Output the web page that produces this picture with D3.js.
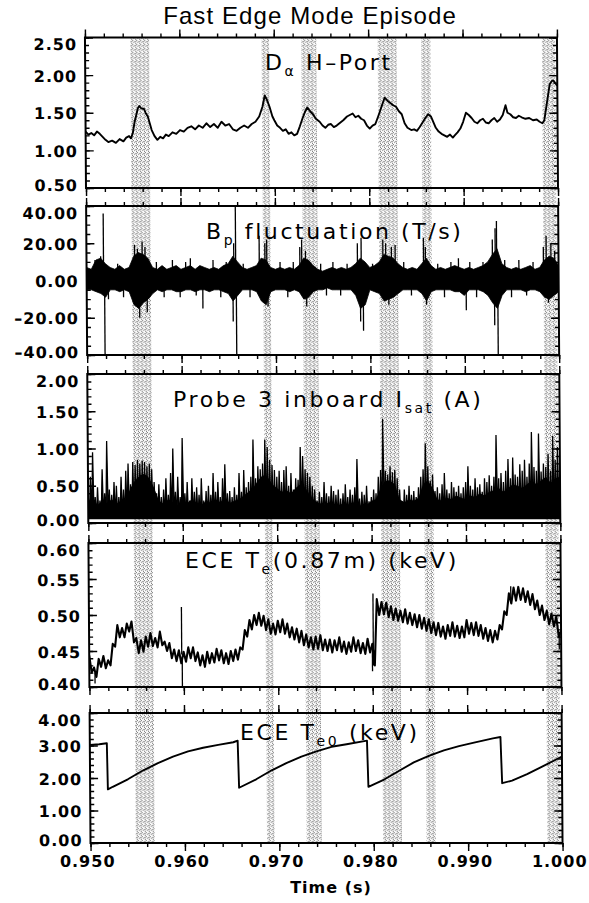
<!DOCTYPE html>
<html>
<head>
<meta charset="utf-8">
<script src="https://cdn.jsdelivr.net/npm/d3@7"></script>
<style>
  html, body { margin: 0; padding: 0; background: #fff; }
  svg { display: block; }
</style>
</head>
<body>
<svg id="chart" width="589" height="903"></svg>
<script>
// ---------------------------------------------------------------------------
// Data. Times are in milliseconds after t = 0.950 s.
// ---------------------------------------------------------------------------
const T0 = 0.950;
const X_TICKS = [0.950, 0.960, 0.970, 0.980, 0.990, 1.000];

// Fast edge mode events (shaded intervals, ms)
const EPISODES = [[4.8, 6.8], [18.7, 19.5], [22.9, 24.5], [31.0, 33.0], [35.6, 36.6], [48.4, 49.8]];

// D-alpha H-port signal: [ms, value]
const DA = [
  [0,1.25],[0.3,1.21],[0.6,1.23],[0.9,1.20],[1.2,1.25],[1.5,1.22],[1.8,1.18],[2.1,1.14],[2.4,1.11],[2.8,1.13],
  [3.2,1.10],[3.6,1.15],[4.0,1.12],[4.3,1.17],[4.6,1.19],[4.8,1.16],[5.0,1.23],[5.2,1.38],[5.4,1.48],[5.55,1.56],
  [5.7,1.59],[5.9,1.56],[6.2,1.55],[6.4,1.49],[6.6,1.45],[6.8,1.36],[7.0,1.27],[7.3,1.19],[7.6,1.14],[7.9,1.18],
  [8.2,1.16],[8.5,1.21],[8.8,1.19],[9.2,1.24],[9.6,1.22],[10.0,1.27],[10.4,1.25],[10.8,1.30],[11.2,1.32],[11.6,1.28],
  [12.0,1.33],[12.4,1.30],[12.8,1.36],[13.2,1.31],[13.6,1.35],[14.0,1.30],[14.4,1.38],[14.8,1.33],[15.2,1.35],[15.6,1.28],
  [16.0,1.26],[16.4,1.30],[16.8,1.33],[17.2,1.30],[17.6,1.35],[18.0,1.38],[18.4,1.45],[18.75,1.58],[19.0,1.73],[19.2,1.68],
  [19.5,1.58],[19.8,1.45],[20.0,1.40],[20.3,1.33],[20.6,1.30],[20.9,1.26],[21.2,1.28],[21.5,1.22],[21.8,1.24],[22.1,1.20],
  [22.4,1.22],[22.7,1.32],[23.0,1.43],[23.25,1.51],[23.5,1.57],[23.8,1.52],[24.1,1.48],[24.4,1.42],[24.8,1.38],[25.1,1.33],
  [25.4,1.30],[25.7,1.34],[26.0,1.35],[26.3,1.31],[26.6,1.33],[27.0,1.37],[27.3,1.40],[27.7,1.45],[28.0,1.47],[28.3,1.49],
  [28.6,1.44],[28.9,1.46],[29.2,1.42],[29.5,1.40],[29.8,1.33],[30.1,1.29],[30.4,1.33],[30.7,1.35],[31.0,1.45],[31.2,1.52],
  [31.5,1.63],[31.7,1.70],[32.0,1.66],[32.3,1.63],[32.6,1.60],[32.9,1.58],[33.2,1.52],[33.5,1.48],[33.8,1.36],[34.1,1.30],
  [34.5,1.27],[34.8,1.28],[35.1,1.26],[35.4,1.31],[35.7,1.37],[36.0,1.43],[36.3,1.48],[36.6,1.45],[36.9,1.36],[37.1,1.30],
  [37.4,1.25],[37.7,1.22],[38.0,1.20],[38.3,1.18],[38.6,1.21],[38.9,1.17],[39.1,1.20],[39.4,1.24],[39.7,1.29],[40.0,1.38],
  [40.3,1.50],[40.6,1.47],[40.9,1.43],[41.2,1.38],[41.5,1.36],[41.8,1.40],[42.1,1.42],[42.4,1.37],[42.7,1.36],[43.0,1.40],
  [43.3,1.43],[43.6,1.38],[43.9,1.41],[44.2,1.47],[44.5,1.60],[44.7,1.50],[45.0,1.48],[45.3,1.44],[45.6,1.43],[45.9,1.46],
  [46.2,1.44],[46.6,1.42],[47.0,1.43],[47.4,1.40],[47.8,1.41],[48.1,1.38],[48.4,1.36],[48.6,1.40],[48.9,1.64],[49.2,1.88],
  [49.4,1.92],[49.6,1.93],[49.8,1.89],[50.0,1.86]
];

// Bp fluctuation (T/s): envelope of the dense trace, sampled every 0.5 ms
const BP_STEP = 0.5;
const BP_HI = [7,6,11,12,9,7,6,8,6,7, 13,15,14,12,7,6,8,6,7,8, 6,7,8,6,8,7,6,7,6,8,
  9,13,10,7,6,7,8,12,11,7, 6,7,6,7,6,8,12,11,8,6, 5,6,7,6,7,6,7,9,12,10,
  7,8,10,14,13,12,9,7,6,7, 6,9,12,8,6,7,6,7,8,7, 6,7,6,7,8,10,14,17,9,7,
  6,7,6,7,8,6,7,11,13,12, 8];
const BP_LO = [-5,-5,-6,-7,-9,-5,-5,-6,-5,-6, -13,-15,-12,-10,-7,-5,-6,-5,-5,-6, -6,-5,-5,-6,-5,-5,-6,-5,-5,-6,
  -7,-11,-8,-5,-5,-5,-6,-11,-13,-6, -5,-5,-5,-6,-5,-6,-10,-9,-6,-5, -5,-4,-5,-5,-5,-5,-5,-8,-15,-13,
  -5,-6,-7,-11,-10,-9,-7,-5,-5,-5, -5,-7,-11,-6,-5,-5,-5,-5,-6,-6, -8,-5,-5,-5,-6,-8,-12,-15,-8,-5,
  -5,-5,-5,-6,-5,-5,-6,-9,-10,-8, -6];
// Isolated spikes: [ms, peak value]
const BP_SPIKES = [[0.9,11],[1.5,13],[1.8,36],[1.9,-40],[2.3,-10],[3.3,9],[3.9,-9],[5.1,19],[5.4,17],[5.6,-20],
  [5.9,21],[6.2,18],[6.4,-17],[7.4,10],[8.2,-9],[9.1,11],[9.9,-9],[10.5,10],[11.0,12],[11.6,-8],[12.3,-15],
  [13.4,11],[14.2,-9],[14.8,10],[15.5,-22],[15.6,20],[15.8,42],[15.85,-40],[16.6,9],[17.3,-9],[18.3,24],
  [18.9,20],[19.1,22],[19.2,-14],[20.5,10],[21.3,-9],[21.9,10],[22.6,18],[22.8,22],[23.2,16],[23.3,-14],
  [24.8,9],[25.4,-8],[26.1,10],[26.9,-8],[27.6,9],[28.7,20],[29.0,-22],[29.1,23],[29.3,-27],[30.3,9],
  [31.4,22],[31.7,20],[32.0,-13],[32.3,18],[32.7,19],[33.6,10],[34.4,-8],[35.7,23],[35.9,18],[36.0,-13],
  [37.2,9],[37.9,-9],[38.6,10],[39.4,12],[40.2,-16],[40.6,10],[41.3,-9],[42.0,10],[43.0,22],[43.2,-24],
  [43.3,28],[43.45,32],[43.55,-40],[44.3,11],[45.0,-9],[45.8,11],[46.6,-8],[47.3,10],[48.4,18],[48.7,24],
  [48.9,-12],[49.2,20],[49.6,16]];

// Probe 3 inboard ion saturation current (A)
const ISAT_FLOOR = 0.06;
const ISAT_PEAK_STEP = 0.25;
const ISAT_PEAK = [
  0.40,0.62,0.95,0.35, 0.48,0.30,0.72,0.40, 1.10,0.45,0.38,0.55, 0.50,0.35,0.62,0.45, 0.70,0.80,0.52,0.82,
  0.78,0.85,0.80,0.84, 0.82,0.76,0.80,0.72, 0.55,0.40,0.52,0.35, 0.45,0.60,0.38,0.67, 1.00,0.42,0.62,0.35,
  1.14,0.40,0.55,0.30, 0.60,0.42,0.48,0.38, 0.60,0.30,0.43,0.50, 0.38,0.67,0.42,0.55, 0.35,0.60,0.79,0.40,
  0.43,0.35,0.48,0.38, 0.67,0.42,0.71,0.48, 0.55,0.62,1.12,0.60, 0.76,0.72,0.80,1.12, 1.02,0.85,0.78,0.71,
  0.62,0.70,0.55,0.71, 0.76,0.50,0.67,0.45, 0.60,0.58,1.02,0.90, 0.72,0.67,0.62,0.50, 0.45,0.30,0.42,0.35,
  0.55,0.40,0.36,0.50, 0.43,0.38,0.45,0.33, 0.40,0.52,0.35,0.45, 0.38,0.48,0.86,0.33, 0.42,0.38,0.50,0.29,
  0.35,0.45,0.40,0.62, 0.71,1.40,0.70,0.65, 0.76,0.68,0.71,0.60, 0.45,0.29,0.45,0.38, 0.50,0.38,0.43,0.35,
  0.48,0.62,0.72,1.07, 0.76,0.57,0.65,0.43, 0.48,0.40,0.52,0.67, 0.45,0.40,0.55,0.48, 0.42,0.50,0.40,0.48,
  0.55,0.76,0.50,0.45, 0.60,0.48,0.52,0.42, 0.60,0.55,0.64,0.50, 0.62,1.18,0.60,0.67, 0.55,0.70,0.86,0.60,
  0.88,0.65,0.62,0.79, 0.70,0.85,0.62,0.80, 1.22,0.75,0.70,1.20, 0.69,0.80,0.75,0.93, 0.70,1.17,0.85,1.02,
  0.80];
const ISAT_BASE_STEP = 0.5;
const ISAT_BASE = [
  0.27,0.32,0.24,0.30,0.27,0.32,0.26,0.30,0.32,
  0.47,0.57,0.64,0.66,0.60,0.47,
  0.30,0.26,0.32,0.28,0.24,0.30,0.27,0.32,0.26,0.24,0.30,0.27,0.32,0.28,0.34,0.27,0.30,0.32,0.37,0.42,
  0.47,0.57,0.64,0.62,0.52,
  0.47,0.42,0.44,0.40,0.47,0.52,0.47,0.37,
  0.30,0.27,0.24,0.28,0.26,0.22,0.27,0.24,0.28,0.26,0.22,0.24,0.30,0.32,
  0.47,0.57,0.57,0.52,
  0.32,0.28,0.32,0.30,0.34,
  0.52,0.57,0.47,
  0.32,0.30,0.34,0.32,0.37,0.34,0.32,0.37,0.35,0.40,0.37,0.42,
  0.44,0.47,0.42,0.47,0.52,0.50,0.47,0.52,0.57,0.52,0.57,0.62,0.54,0.60,0.62];

// ECE Te at 0.87 m (keV), sampled every 0.25 ms
const TE_STEP = 0.25;
const TE_TRACE = [
  .444,.420, .427,.414, .439,.428, .443,.426, .437,.430, .460,.456, .486,.469, .482,.469, .488,.477, .491,.462,
  .468,.447, .465,.449, .470,.456, .475,.457, .468,.455, .477,.458, .463,.450, .461,.440, .452,.436, .451,.433,
  .449,.435, .455,.440, .455,.436, .448,.430, .444,.428, .449,.433, .447,.434, .453,.437, .451,.433, .447,.432,
  .450,.436, .452,.438, .455,.452, .479,.470, .493,.480, .500,.486, .503,.485, .499,.479, .494,.474, .488,.473,
  .492,.476, .494,.474, .488,.469, .483,.466, .481,.462, .478,.458, .473,.455, .469,.452, .470,.453, .472,.451,
  .466,.450, .466,.448, .465,.451, .469,.449, .463,.446, .462,.449, .469,.450, .465,.447, .461,.446, .467,.448,
  .460,.430, .522,.500, .518,.501, .517,.497, .512,.493, .509,.492, .506,.490, .508,.488, .503,.486, .501,.483,
  .500,.481, .496,.478, .494,.475, .490,.472, .489,.470, .484,.467, .486,.471, .490,.470, .485,.468, .484,.469,
  .493,.474, .489,.472, .490,.471, .486,.467, .482,.464, .479,.462, .478,.466, .486,.480, .505,.500, .530,.516,
  .538,.520, .539,.521, .537,.518, .533,.514, .529,.508, .520,.500, .513,.493, .506,.487, .502,.484, .498,.470,
  .478];
// Spikes: [ms, from, to]
const TE_SPIKES = [[0.6,0.420,0.405],[9.8,0.445,0.511],[9.85,0.440,0.398],[30.0,0.452,0.422],
  [30.1,0.430,0.530],[44.7,0.520,0.540],[49.8,0.475,0.452]];

// Central ECE Te0 (keV): sawtooth
const TE0_T = [0,1.0,1.8,1.88,2.4,4.0,5.6,7.2,8.8,10.4, 12.0,13.6,15.2,15.66,15.78,17.6,19.2,20.8,22.4,24.0,
  25.6,27.2,29.36,29.48,31.2,32.8,34.3,35.9,37.5,39.1, 40.7,42.7,43.5,43.65,44.7,46.3,47.9,50];
const TE0_V = [3.02,3.04,3.07,1.65,1.73,1.96,2.23,2.46,2.66,2.82, 2.93,3.02,3.10,3.15,1.70,1.96,2.23,2.46,2.66,2.82,
  2.96,3.04,3.15,1.73,1.96,2.23,2.48,2.68,2.85,2.98, 3.09,3.22,3.26,1.84,1.92,2.12,2.35,2.66];

// Y-axis ticks per panel
const Y_TICKS_DA   = [0.50, 1.00, 1.50, 2.00, 2.50];
const Y_TICKS_BP   = [-40, -20, 0, 20, 40];
const Y_TICKS_ISAT = [0.00, 0.50, 1.00, 1.50, 2.00];
const Y_TICKS_TE   = [0.40, 0.45, 0.50, 0.55, 0.60];
const Y_TICKS_TE0  = [0.00, 1.00, 2.00, 3.00, 4.00];

// ---------------------------------------------------------------------------
// Layout
// ---------------------------------------------------------------------------
const SHEAR = 0.0069;                 // slight slant of the printed page
const FRAME_X = [84.7, 556.7];
const PANEL_Y = [[37.5, 188], [206, 355], [374, 523], [543, 687], [713, 843]];
const TICK_FONT = "'DejaVu Sans', 'Liberation Sans', sans-serif";
const LABEL_FONT = "'DejaVu Sans', 'Liberation Sans', sans-serif";

const fmt = d3.formatLocale({decimal: ".", thousands: ",", grouping: [3], currency: ["", ""], minus: "\u2013"});
const yFmt = fmt.format(".2f");
const xFmt = fmt.format(".3f");

const svg = d3.select("#chart");
const defs = svg.append("defs");

// halftone stipple for the shaded intervals
const pat = defs.append("pattern").attr("id", "stipple")
  .attr("width", 4).attr("height", 4).attr("patternUnits", "userSpaceOnUse");
[[0,0],[2,1],[1,2],[3,3],[3,1]].forEach(([a, b]) =>
  pat.append("rect").attr("x", a).attr("y", b).attr("width", 1).attr("height", 1).attr("fill", "#777"));

const g = svg.append("g").attr("transform", `matrix(1,0,${SHEAR},1,0,0)`);
const x = d3.scaleLinear().domain([0, 50]).range(FRAME_X);

// shaded intervals run through all panels
g.append("g").selectAll("rect").data(EPISODES).join("rect")
  .attr("x", d => x(d[0])).attr("width", d => x(d[1]) - x(d[0]))
  .attr("y", PANEL_Y[0][0]).attr("height", PANEL_Y[4][1] - PANEL_Y[0][0])
  .attr("fill", "url(#stipple)");

const panels = [
  {domain: [0.5, 2.5], ticks: Y_TICKS_DA, minor: 0.1,
   label: [["D"], ["\u03b1", 1], [" H\u2013Port"]], lx: 265, ly: 70, draw: drawDa},
  {domain: [-40, 40], ticks: Y_TICKS_BP, minor: 5,
   label: [["B"], ["p", 1], [" fluctuation (T/s)"]], lx: 206, ly: 239, draw: drawBp},
  {domain: [0, 2], ticks: Y_TICKS_ISAT, minor: 0.1,
   label: [["Probe 3 inboard I"], ["sat", 1], [" (A)"]], lx: 173, ly: 407, draw: drawIsat},
  {domain: [0.4, 0.6], ticks: Y_TICKS_TE, minor: 0.01,
   label: [["ECE T"], ["e", 1], ["(0.87m) (keV)"]], lx: 185, ly: 568, draw: drawTe},
  {domain: [0, 4], ticks: Y_TICKS_TE0, minor: 0.2,
   label: [["ECE T"], ["e0", 1], [" (keV)"]], lx: 240, ly: 740, draw: drawTe0}
];

function minorTicks(domain, step) {
  const n = Math.round((domain[1] - domain[0]) / step);
  return d3.range(n + 1).map(i => domain[0] + i * step);
}

const styleAxis = sel => {
  sel.select(".domain").remove();
  sel.selectAll("line").attr("stroke", "#000").attr("stroke-width", 1.4);
};

panels.forEach((p, k) => {
  const [top, bottom] = PANEL_Y[k];
  const y = d3.scaleLinear().domain(p.domain).range([bottom, top]);
  const clipId = "clip" + k;
  defs.append("clipPath").attr("id", clipId)
    .append("rect").attr("x", FRAME_X[0]).attr("y", top)
    .attr("width", FRAME_X[1] - FRAME_X[0]).attr("height", bottom - top);

  const pg = g.append("g");
  const data = pg.append("g").attr("clip-path", `url(#${clipId})`);
  p.draw(data, y);

  // frame
  pg.append("rect").attr("x", FRAME_X[0]).attr("y", top)
    .attr("width", FRAME_X[1] - FRAME_X[0]).attr("height", bottom - top)
    .attr("fill", "none").attr("stroke", "#000").attr("stroke-width", 2);

  // y axes: ticks point inward on both sides
  const yMinor = minorTicks(p.domain, p.minor);
  pg.append("g").attr("transform", `translate(${FRAME_X[0]},0)`)
    .call(d3.axisLeft(y).tickValues(yMinor).tickSize(-4).tickFormat("")).call(styleAxis);
  pg.append("g").attr("transform", `translate(${FRAME_X[1]},0)`)
    .call(d3.axisRight(y).tickValues(yMinor).tickSize(-4).tickFormat("")).call(styleAxis);
  pg.append("g").attr("transform", `translate(${FRAME_X[1]},0)`)
    .call(d3.axisRight(y).tickValues(p.ticks).tickSize(-8).tickFormat("")).call(styleAxis);
  const yl = pg.append("g").attr("transform", `translate(${FRAME_X[0]},0)`)
    .call(d3.axisLeft(y).tickValues(p.ticks).tickSize(-8).tickPadding(8).tickFormat(yFmt))
    .call(styleAxis);
  yl.attr("font-family", null).attr("font-size", null);
  yl.selectAll("text")
    .attr("font-family", TICK_FONT).attr("font-weight", "bold").attr("font-size", 16)
    .attr("letter-spacing", 1).attr("fill", "#000")
    .attr("dy", d => d === p.domain[1] ? 12 : d === p.domain[0] ? 2 : 6);

  // x axes: ticks on top and bottom edges
  const xMinor = minorTicks([0, 50], 2);
  const xMajor = X_TICKS.map(s => (s - T0) * 1000);
  [[d3.axisBottom, top], [d3.axisTop, bottom]].forEach(([ax, pos]) => {
    pg.append("g").attr("transform", `translate(0,${pos})`)
      .call(ax(x).tickValues(xMinor).tickSize(-4).tickFormat("")).call(styleAxis);
    pg.append("g").attr("transform", `translate(0,${pos})`)
      .call(ax(x).tickValues(xMajor).tickSize(-8).tickFormat("")).call(styleAxis);
  });
});

// time labels under the last panel (upright, page coordinates)
{
  const bottom = PANEL_Y[4][1];
  const xl = svg.append("g").attr("transform", `translate(2.5,${bottom})`)
    .call(d3.axisBottom(x).tickValues(X_TICKS.map(s => (s - T0) * 1000)).tickSize(0).tickPadding(13)
      .tickFormat(v => xFmt(T0 + v / 1000)));
  xl.select(".domain").remove();
  xl.attr("font-family", null).attr("font-size", null);
  xl.selectAll("text").attr("font-family", TICK_FONT).attr("font-weight", "bold")
    .attr("font-size", 16).attr("letter-spacing", 1).attr("fill", "#000");
}

// panel captions (page coordinates)
panels.forEach(p => {
  const t = svg.append("text").attr("x", p.lx).attr("y", p.ly)
    .attr("font-family", LABEL_FONT).attr("font-size", 22).attr("letter-spacing", 2.6)
    .attr("fill", "#000");
  let shifted = false;
  p.label.forEach(([s, sub]) => {
    const ts = t.append("tspan").text(s);
    if (sub) { ts.attr("font-size", 14).attr("dy", 6); shifted = true; }
    else if (shifted) { ts.attr("dy", -6); shifted = false; }
  });
});

// title and x-axis title
svg.append("text").attr("x", 310).attr("y", 24).attr("text-anchor", "middle")
  .attr("font-family", "'Liberation Sans', Arial, sans-serif").attr("font-size", 24)
  .attr("letter-spacing", 1.1).attr("fill", "#000").text("Fast Edge Mode Episode");
svg.append("text").attr("x", 331).attr("y", 893).attr("text-anchor", "middle")
  .attr("font-family", TICK_FONT).attr("font-weight", "bold").attr("font-size", 16)
  .attr("letter-spacing", 1).attr("fill", "#000").text("Time (s)");

// ---------------------------------------------------------------------------
// Panel renderers
// ---------------------------------------------------------------------------
function drawDa(sel, y) {
  sel.append("path").datum(DA)
    .attr("d", d3.line().x(d => x(d[0])).y(d => y(d[1])))
    .attr("fill", "none").attr("stroke", "#000").attr("stroke-width", 1.9)
    .attr("stroke-linejoin", "round");
}

function drawBp(sel, y) {
  sel.append("path").datum(BP_HI)
    .attr("d", d3.area().x((d, i) => x(i * BP_STEP)).y0((d, i) => y(BP_LO[i])).y1(d => y(d)))
    .attr("fill", "#000").attr("stroke", "#000").attr("stroke-width", 0.8);
  sel.append("g").selectAll("line").data(BP_SPIKES).join("line")
    .attr("x1", d => x(d[0])).attr("x2", d => x(d[0]))
    .attr("y1", y(0)).attr("y2", d => y(d[1]))
    .attr("stroke", "#000").attr("stroke-width", 1.3);
}

function drawIsat(sel, y) {
  sel.append("path").datum(ISAT_BASE)
    .attr("d", d3.area().x((d, i) => x(i * ISAT_BASE_STEP)).y0(y(ISAT_FLOOR)).y1(d => y(d)))
    .attr("fill", "#000");
  const pts = ISAT_PEAK.flatMap((v, i) => [[i * ISAT_PEAK_STEP, v], [i * ISAT_PEAK_STEP + ISAT_PEAK_STEP / 2, ISAT_FLOOR]]);
  sel.append("path").datum(pts)
    .attr("d", d3.area().x(d => x(d[0])).y0(y(ISAT_FLOOR)).y1(d => y(d[1])))
    .attr("fill", "#000").attr("stroke", "#000").attr("stroke-width", 1.3);
}

function drawTe(sel, y) {
  sel.append("path").datum(TE_TRACE)
    .attr("d", d3.line().x((d, i) => x(i * TE_STEP)).y(d => y(d)))
    .attr("fill", "none").attr("stroke", "#000").attr("stroke-width", 2.1)
    .attr("stroke-linejoin", "round");
  sel.append("g").selectAll("line").data(TE_SPIKES).join("line")
    .attr("x1", d => x(d[0])).attr("x2", d => x(d[0]))
    .attr("y1", d => y(d[1])).attr("y2", d => y(d[2]))
    .attr("stroke", "#000").attr("stroke-width", 1.3);
}

function drawTe0(sel, y) {
  sel.append("path").datum(TE0_T.map((t, i) => [t, TE0_V[i]]))
    .attr("d", d3.line().x(d => x(d[0])).y(d => y(d[1])))
    .attr("fill", "none").attr("stroke", "#000").attr("stroke-width", 1.9)
    .attr("stroke-linejoin", "round");
}
</script>
</body>
</html>
